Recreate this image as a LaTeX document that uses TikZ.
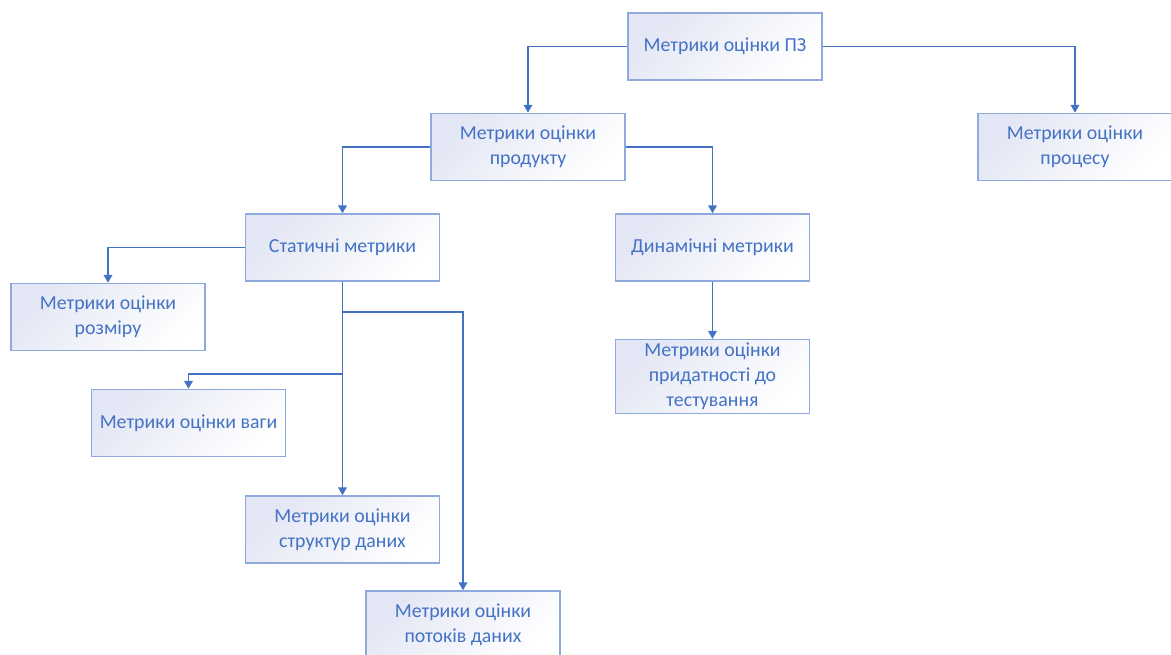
\documentclass[tikz,border=0pt]{standalone}
\usepackage{fontspec}
\setmainfont{Carlito}
\usetikzlibrary{arrows.meta}
\definecolor{lineblue}{HTML}{4472C4}
\definecolor{boxline}{HTML}{8EA9DB}
\definecolor{boxfill}{HTML}{E3E6F4}

\begin{document}
\begin{tikzpicture}[
x=0.02cm, y=-0.02cm,
box/.style={draw=boxline, line width=0.9pt, top color=boxfill, bottom color=white, shading angle=45,
  align=center, minimum width=3.88cm, minimum height=1.34cm, inner sep=2pt,
  text=lineblue, font=\fontsize{11.3}{14.2}\selectfont},
arrow/.style={-{Triangle[length=4.5pt,width=5pt]}, draw=lineblue, line width=0.8pt}
]
\useasboundingbox (0,0) rectangle (1171,655);
\node[box] (root) at (725,46.5) {Метрики оцінки ПЗ};
\node[box] (product) at (528,147) {Метрики оцінки\\продукту};
\node[box] (process) at (1075,147) {Метрики оцінки\\процесу};
\node[box] (static) at (342.5,247.5) {Статичні метрики};
\node[box] (dynamic) at (712.5,247.5) {Динамічні метрики};
\node[box] (size) at (108,317) {Метрики оцінки\\розміру};
\node[box] (weight) at (188.5,423) {Метрики оцінки ваги};
\node[box] (struct) at (342.5,529.5) {Метрики оцінки\\структур даних};
\node[box] (flows) at (463,624.5) {Метрики оцінки\\потоків даних};
\node[box] (testab) at (712.5,376.5) {Метрики оцінки\\придатності до\\тестування};
\draw[arrow] (root.west) -| (product.north);
\draw[arrow] (root.east) -| (process.north);
\draw[arrow] (product.west) -| (static.north);
\draw[arrow] (product.east) -| (dynamic.north);
\draw[arrow] (static.west) -| (size.north);
\draw[arrow] (static.south) -- (static.south |- 0,374) -| (weight.north);
\draw[arrow] (static.south) -- (struct.north);
\draw[arrow] (static.south) |- (flows.north |- 0,312) -- (flows.north);
\draw[arrow] (dynamic.south) -- (testab.north);
\end{tikzpicture}
\end{document}
